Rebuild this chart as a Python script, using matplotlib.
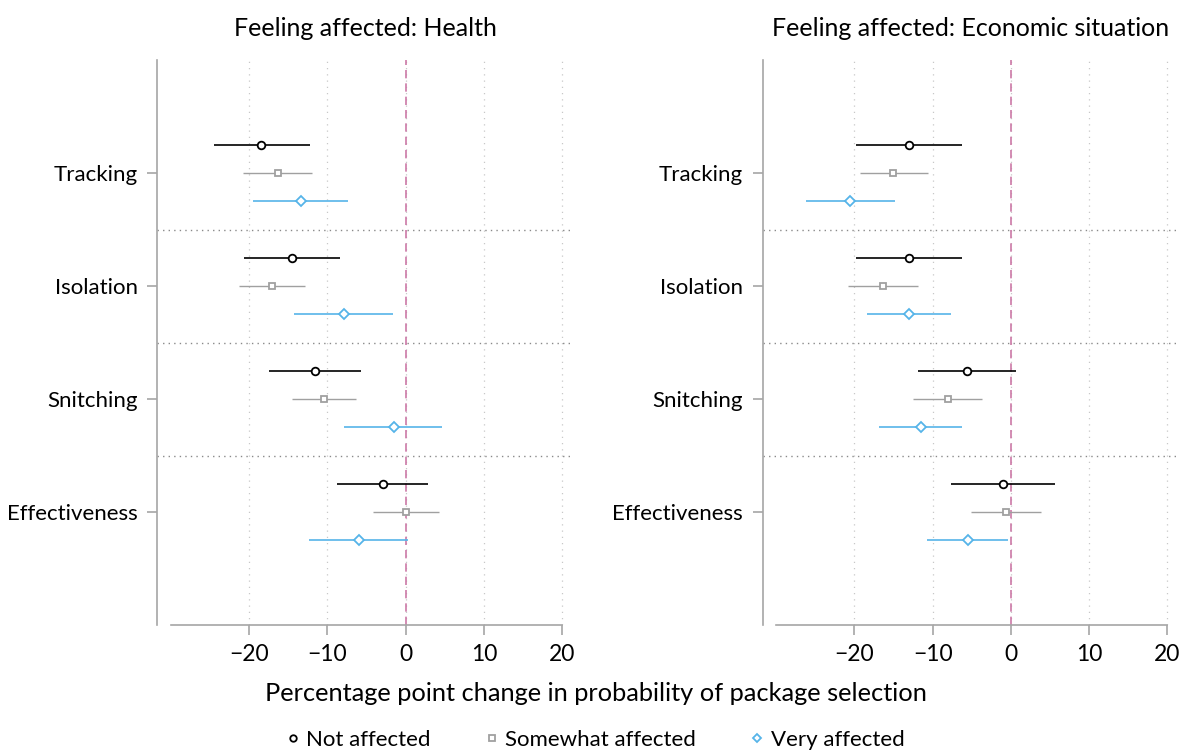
import numpy as np
import matplotlib.pyplot as plt

plt.rcParams['font.family'] = ['Lato', 'DejaVu Sans']

categories = ['Tracking', 'Isolation', 'Snitching', 'Effectiveness']
groups = ['Not affected', 'Somewhat affected', 'Very affected']
panel_titles = ['Feeling affected: Health', 'Feeling affected: Economic situation']

# point estimates and 95% CI, one row per category (Tracking..Effectiveness)
health_est = {
    'Not affected':      [-18.4, -14.5, -11.6, -2.9],
    'Somewhat affected': [-16.3, -17.1, -10.4, 0.0],
    'Very affected':     [-13.4, -7.9, -1.5, -6.0],
}
health_lo = {
    'Not affected':      [-24.5, -20.6, -17.5, -8.7],
    'Somewhat affected': [-20.7, -21.3, -14.5, -4.2],
    'Very affected':     [-19.5, -14.2, -7.9, -12.3],
}
health_hi = {
    'Not affected':      [-12.2, -8.4, -5.7, 2.9],
    'Somewhat affected': [-11.9, -12.9, -6.3, 4.3],
    'Very affected':     [-7.4, -1.6, 4.7, 0.3],
}

econ_est = {
    'Not affected':      [-13.0, -13.0, -5.6, -1.0],
    'Somewhat affected': [-15.0, -16.3, -8.0, -0.6],
    'Very affected':     [-20.5, -13.0, -11.5, -5.5],
}
econ_lo = {
    'Not affected':      [-19.8, -19.8, -11.8, -7.7],
    'Somewhat affected': [-19.3, -20.8, -12.5, -5.1],
    'Very affected':     [-26.2, -18.4, -16.8, -10.7],
}
econ_hi = {
    'Not affected':      [-6.3, -6.2, 0.7, 5.6],
    'Somewhat affected': [-10.6, -11.8, -3.7, 3.9],
    'Very affected':     [-14.8, -7.6, -6.2, -0.4],
}

xticks = [-20, -10, 0, 10, 20]
xticklabels = ['\u221220', '\u221210', '0', '10', '20']

colors = {'Not affected': 'black', 'Somewhat affected': '#a0a0a0', 'Very affected': '#56B4E9'}
markers = {'Not affected': 'o', 'Somewhat affected': 's', 'Very affected': 'D'}
msizes = {'Not affected': 5.5, 'Somewhat affected': 5.0, 'Very affected': 5.0}
lws = {'Not affected': 1.2, 'Somewhat affected': 1.0, 'Very affected': 1.2}
offsets = {'Not affected': -0.25, 'Somewhat affected': 0.0, 'Very affected': 0.25}

fig = plt.figure(figsize=(11.92, 7.51), dpi=100)
ax1 = fig.add_axes([0.132, 0.1678, 0.3495, 0.7522])
ax2 = fig.add_axes([0.6398, 0.1678, 0.3495, 0.7522])

ypos = np.arange(1, len(categories) + 1)
spine_col = '#a6a6a6'

for ax, title, est, lo, hi in [(ax1, panel_titles[0], health_est, health_lo, health_hi),
                               (ax2, panel_titles[1], econ_est, econ_lo, econ_hi)]:
    ax.set_xlim(-31.7, 21.5)
    ax.set_ylim(5, 0)
    for x in xticks:
        ax.axvline(x, color='#c8c8c8', lw=0.9, ls=(0, (1, 4)), zorder=0)
    for y in [1.5, 2.5, 3.5]:
        ax.axhline(y, color='#8a8a8a', lw=1.0, ls=(0, (1, 3)), zorder=0)
    ax.axvline(0, color='#CC79A7', lw=1.2, ls=(0, (5, 3)), zorder=1)

    handles = []
    for g in groups:
        y = ypos + offsets[g]
        e = np.array(est[g])
        l = np.array(lo[g])
        h = np.array(hi[g])
        ax.hlines(y, l, h, color=colors[g], lw=lws[g], zorder=2)
        p, = ax.plot(e, y, ls='none', marker=markers[g], ms=msizes[g],
                     mfc='white', mec=colors[g], mew=1.3, zorder=3)
        handles.append(p)

    ax.set_yticks(ypos)
    ax.set_yticklabels(categories, fontsize=16)
    ax.set_xticks(xticks)
    ax.set_xticklabels(xticklabels, fontsize=16.5)
    ax.tick_params(axis='both', color=spine_col, length=7, width=1.2, pad=7)
    ax.tick_params(axis='x', pad=7)
    for s in ['top', 'right']:
        ax.spines[s].set_visible(False)
    for s in ['left', 'bottom']:
        ax.spines[s].set_color(spine_col)
        ax.spines[s].set_linewidth(1.2)
    ax.spines['bottom'].set_bounds(-30, 20)
    ax.set_title(title, fontsize=18, pad=17)

fig.text(0.5, 0.076, 'Percentage point change in probability of package selection',
         ha='center', va='center', fontsize=18.3)

fig.legend(handles, groups, loc='center', bbox_to_anchor=(0.5, 0.015), ncol=3,
           frameon=False, fontsize=16, handlelength=0.5, handletextpad=0.35,
           columnspacing=2.5, markerscale=0.85)

fig.savefig('out.png', dpi=100)
